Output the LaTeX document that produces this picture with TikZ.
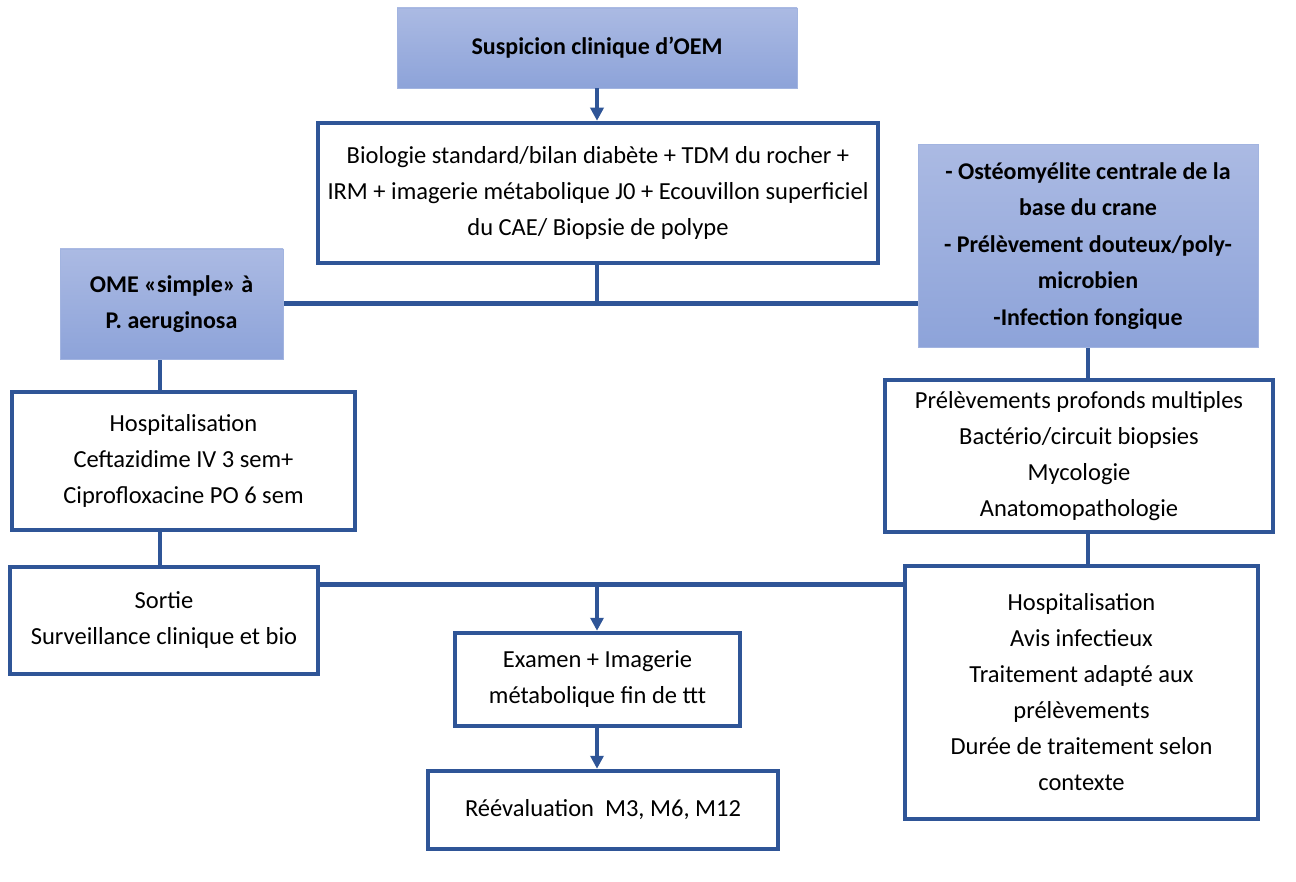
\documentclass[tikz,border=0pt]{standalone}
\usepackage{fontspec}
\setmainfont{Carlito}
\usepackage{xcolor}
\usetikzlibrary{arrows.meta}
\usetikzlibrary{calc}

\definecolor{bleufonce}{HTML}{2F5597}
\definecolor{bleuhaut}{HTML}{ABBAE3}
\definecolor{bleubas}{HTML}{8DA3D9}
\definecolor{bleubord}{HTML}{A2B4E0}

\begin{document}
\begin{tikzpicture}[x=1pt,y=-1pt,
    txt/.style={font=\fontsize{24.5}{36}\selectfont,align=center,inner sep=0pt},
    boitebleue/.style={txt,font=\bfseries\fontsize{24}{36.5}\selectfont,top color=bleuhaut,bottom color=bleubas,draw=bleubord,line width=0.8pt},
    boiteblanche/.style={txt,fill=white,draw=bleufonce,line width=4.5pt},
    lien/.style={draw=bleufonce,line width=4.5pt},
    fleche/.style={lien,-{Triangle[width=13pt,length=13pt]}}]
            %%% CADRE %%%
            \useasboundingbox[fill=white] (0,0) rectangle (1296,882);

            %%% COORDONNEES %%%
            \coordinate (xg) at (160,0);
            \coordinate (xd) at (1088,0);
            \coordinate (jhaut) at (597,303.5);
            \coordinate (jbas) at (597,584.5);

            %%% LIENS %%%
            \draw[lien] (xg |- 0,358) -- (xg |- 0,528);
            \draw[lien] (xg |- 0,528) -- (xg |- 0,565);
            \draw[lien] (xd |- 0,346) -- (xd |- 0,378);
            \draw[lien] (xd |- 0,530) -- (xd |- 0,565);
            \draw[lien] (597,262) -- (jhaut);
            \draw[lien] (283,303.5) -- (918,303.5);
            \draw[lien] (318,584.5) -- (905,584.5);

            %%% BOITES %%%
            \node[boitebleue,minimum width=400,minimum height=80] (sus) at (597,48) {Suspicion clinique d’OEM};
            \node[boiteblanche,minimum width=560,minimum height=140] (bilan) at (598,193) {Biologie standard/bilan diabète + TDM du rocher +\\IRM + imagerie métabolique J0 + Ecouvillon superficiel\\du CAE/ Biopsie de polype};
            \node[boitebleue,minimum width=223,minimum height=110] (simple) at (171.5,304) {OME «simple» à\\P. aeruginosa};
            \node[boitebleue,minimum width=340,minimum height=203] (central) at (1088,246) {- Ostéomyélite centrale de la\\base du crane\\- Prélèvement douteux/poly-\\microbien\\-Infection fongique};
            \node[boiteblanche,minimum width=343,minimum height=138] (hospG) at (183.5,461) {Hospitalisation\\Ceftazidime IV 3 sem+\\Ciprofloxacine PO 6 sem};
            \node[boiteblanche,minimum width=308,minimum height=107] (sortie) at (164,620.5) {Sortie\\Surveillance clinique et bio};
            \node[boiteblanche,minimum width=388,minimum height=152] (prelev) at (1079,456) {Prélèvements profonds multiples\\Bactério/circuit biopsies\\Mycologie\\Anatomopathologie};
            \node[boiteblanche,minimum width=353,minimum height=253] (hospD) at (1081.5,692.5) {Hospitalisation\\Avis infectieux\\Traitement adapté aux\\prélèvements\\Durée de traitement selon\\contexte};
            \node[boiteblanche,minimum width=285,minimum height=93] (examen) at (597.5,679.5) {Examen + Imagerie\\métabolique fin de ttt};
            \node[boiteblanche,minimum width=350,minimum height=78] (reeval) at (603,810) {Réévaluation~ M3, M6, M12};

            %%% FLECHES %%%
            \draw[fleche] (sus.south) -- (sus.south |- bilan.north);
            \draw[fleche] (jbas) -- (jbas |- examen.north);
            \draw[fleche] (examen.south -| jbas) -- (jbas |- reeval.north);
\end{tikzpicture}
\end{document}
